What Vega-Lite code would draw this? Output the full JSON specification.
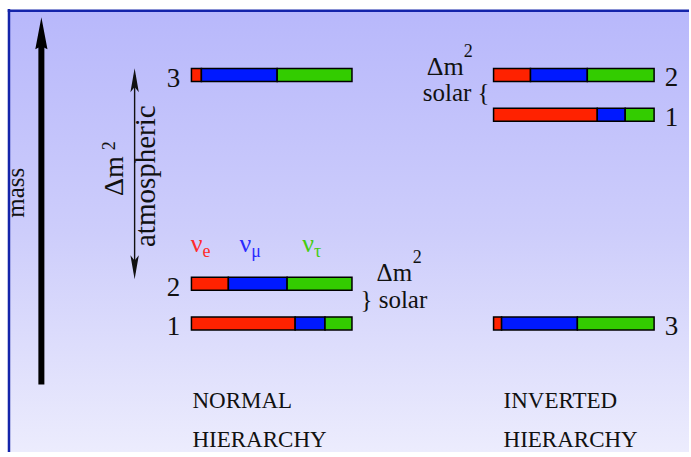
{
  "$schema": "https://vega.github.io/schema/vega-lite/v6.json",
  "width": 691,
  "height": 457,
  "autosize": {"type": "fit", "contains": "padding"},
  "padding": 0,
  "background": "white",
  "config": {
    "view": {"stroke": null},
    "axis": {"disable": true},
    "legend": {"disable": true},
    "text": {"font": "Liberation Serif", "color": "#111111"}
  },
  "data": {"values": [{}]},
  "datasets": {
    "bars": [
      {"hier": "normal", "state": 1, "mass": 0, "flavor": "e", "frac": 0.646},
      {"hier": "normal", "state": 1, "mass": 0, "flavor": "mu", "frac": 0.186},
      {"hier": "normal", "state": 1, "mass": 0, "flavor": "tau", "frac": 0.168},
      {"hier": "normal", "state": 2, "mass": 1.6, "flavor": "e", "frac": 0.23},
      {"hier": "normal", "state": 2, "mass": 1.6, "flavor": "mu", "frac": 0.366},
      {"hier": "normal", "state": 2, "mass": 1.6, "flavor": "tau", "frac": 0.404},
      {"hier": "normal", "state": 3, "mass": 10, "flavor": "e", "frac": 0.062},
      {"hier": "normal", "state": 3, "mass": 10, "flavor": "mu", "frac": 0.472},
      {"hier": "normal", "state": 3, "mass": 10, "flavor": "tau", "frac": 0.466},
      {"hier": "inverted", "state": 1, "mass": 8.4, "flavor": "e", "frac": 0.646},
      {"hier": "inverted", "state": 1, "mass": 8.4, "flavor": "mu", "frac": 0.174},
      {"hier": "inverted", "state": 1, "mass": 8.4, "flavor": "tau", "frac": 0.18},
      {"hier": "inverted", "state": 2, "mass": 10, "flavor": "e", "frac": 0.23},
      {"hier": "inverted", "state": 2, "mass": 10, "flavor": "mu", "frac": 0.354},
      {"hier": "inverted", "state": 2, "mass": 10, "flavor": "tau", "frac": 0.416},
      {"hier": "inverted", "state": 3, "mass": 0, "flavor": "e", "frac": 0.05},
      {"hier": "inverted", "state": 3, "mass": 0, "flavor": "mu", "frac": 0.472},
      {"hier": "inverted", "state": 3, "mass": 0, "flavor": "tau", "frac": 0.478}
    ]
  },
  "resolve": {"scale": {"x": "independent"}},
  "layer": [
    {
      "layer": [
        {
          "mark": {"type": "rect", "strokeWidth": 0, "fill": {"gradient": "linear", "x1": 0, "y1": 0, "x2": 0, "y2": 1, "stops": [{"offset": 0, "color": "#b8b8fb"}, {"offset": 0.5, "color": "#cdcdfb"}, {"offset": 1, "color": "#ececfd"}]}},
          "encoding": {
            "x": {"datum": -1.1366, "type": "quantitative", "scale": {"domain": [-1.19255, 3.09938], "nice": false, "zero": false}},
            "x2": {"datum": 3.09938},
            "y": {"datum": 12.579, "type": "quantitative", "scale": {"domain": [-5.177, 12.815], "nice": false, "zero": false}},
            "y2": {"datum": -5.177}
          }
        },
        {
          "mark": {"type": "rule", "color": "#1424aa", "strokeWidth": 2.5},
          "encoding": {"x": {"datum": -1.1366, "type": "quantitative"}, "y": {"datum": 12.65, "type": "quantitative"}, "y2": {"datum": -5.177}}
        },
        {
          "mark": {"type": "rule", "color": "#1424aa", "strokeWidth": 2.5},
          "encoding": {"x": {"datum": -1.1444, "type": "quantitative"}, "x2": {"datum": 3.09938}, "y": {"datum": 12.579, "type": "quantitative"}}
        },
        {
          "mark": {"type": "rule", "color": "black", "strokeWidth": 6},
          "encoding": {"x": {"datum": -0.9348, "type": "quantitative"}, "y": {"datum": -2.461, "type": "quantitative"}, "y2": {"datum": 11.2}}
        },
        {
          "mark": {"type": "point", "filled": true, "opacity": 1, "color": "black", "size": 1024, "shape": "M0,-1L0.38,1L0,0.8L-0.38,1Z"},
          "encoding": {"x": {"datum": -0.9348, "type": "quantitative"}, "y": {"datum": 11.673, "type": "quantitative"}}
        },
        {
          "mark": {"type": "rule", "color": "#111111", "strokeWidth": 1.4},
          "encoding": {"x": {"datum": -0.354, "type": "quantitative"}, "y": {"datum": 10.0, "type": "quantitative"}, "y2": {"datum": 2.05}}
        },
        {
          "mark": {"type": "point", "filled": true, "opacity": 1, "color": "#111111", "size": 576, "shape": "M0,-1L0.35,1L0,0.55L-0.35,1Z"},
          "encoding": {"x": {"datum": -0.354, "type": "quantitative"}, "y": {"datum": 9.783, "type": "quantitative"}}
        },
        {
          "mark": {"type": "point", "filled": true, "opacity": 1, "color": "#111111", "size": 576, "shape": "M0,1L0.35,-1L0,-0.55L-0.35,-1Z"},
          "encoding": {"x": {"datum": -0.354, "type": "quantitative"}, "y": {"datum": 2.264, "type": "quantitative"}}
        },
        {
          "mark": {"type": "text", "text": "mass", "angle": 270, "align": "center", "baseline": "alphabetic", "fontSize": 25},
          "encoding": {"x": {"datum": -1.0435, "type": "quantitative"}, "y": {"datum": 5.256, "type": "quantitative"}}
        },
        {
          "mark": {"type": "text", "text": "Δm", "angle": 270, "align": "center", "baseline": "alphabetic", "fontSize": 28},
          "encoding": {"x": {"datum": -0.4286, "type": "quantitative"}, "y": {"datum": 5.925, "type": "quantitative"}}
        },
        {
          "mark": {"type": "text", "text": "2", "angle": 270, "align": "center", "baseline": "alphabetic", "fontSize": 18},
          "encoding": {"x": {"datum": -0.4783, "type": "quantitative"}, "y": {"datum": 7.146, "type": "quantitative"}}
        },
        {
          "mark": {"type": "text", "text": "atmospheric", "angle": 270, "align": "center", "baseline": "alphabetic", "fontSize": 29},
          "encoding": {"x": {"datum": -0.2298, "type": "quantitative"}, "y": {"datum": 5.925, "type": "quantitative"}}
        },
        {
          "mark": {"type": "text", "text": "ν", "align": "right", "baseline": "alphabetic", "fontSize": 26, "color": "#ff2a2a"},
          "encoding": {"x": {"datum": 0.0683, "type": "quantitative"}, "y": {"datum": 2.854, "type": "quantitative"}}
        },
        {
          "mark": {"type": "text", "text": "e", "align": "left", "baseline": "alphabetic", "fontSize": 18, "color": "#ff2a2a"},
          "encoding": {"x": {"datum": 0.0683, "type": "quantitative"}, "y": {"datum": 2.657, "type": "quantitative"}}
        },
        {
          "mark": {"type": "text", "text": "ν", "align": "right", "baseline": "alphabetic", "fontSize": 26, "color": "#2a2aff"},
          "encoding": {"x": {"datum": 0.3727, "type": "quantitative"}, "y": {"datum": 2.854, "type": "quantitative"}}
        },
        {
          "mark": {"type": "text", "text": "μ", "align": "left", "baseline": "alphabetic", "fontSize": 18, "color": "#2a2aff"},
          "encoding": {"x": {"datum": 0.3727, "type": "quantitative"}, "y": {"datum": 2.657, "type": "quantitative"}}
        },
        {
          "mark": {"type": "text", "text": "ν", "align": "right", "baseline": "alphabetic", "fontSize": 26, "color": "#44cc11"},
          "encoding": {"x": {"datum": 0.764, "type": "quantitative"}, "y": {"datum": 2.854, "type": "quantitative"}}
        },
        {
          "mark": {"type": "text", "text": "τ", "align": "left", "baseline": "alphabetic", "fontSize": 18, "color": "#44cc11"},
          "encoding": {"x": {"datum": 0.764, "type": "quantitative"}, "y": {"datum": 2.657, "type": "quantitative"}}
        },
        {
          "mark": {"type": "text", "text": "Δm", "align": "center", "baseline": "alphabetic", "fontSize": 25},
          "encoding": {"x": {"datum": 1.264, "type": "quantitative"}, "y": {"datum": 1.713, "type": "quantitative"}}
        },
        {
          "mark": {"type": "text", "text": "2", "align": "left", "baseline": "alphabetic", "fontSize": 18},
          "encoding": {"x": {"datum": 1.3789, "type": "quantitative"}, "y": {"datum": 2.42, "type": "quantitative"}}
        },
        {
          "mark": {"type": "text", "text": "} solar", "align": "center", "baseline": "alphabetic", "fontSize": 25},
          "encoding": {"x": {"datum": 1.2609, "type": "quantitative"}, "y": {"datum": 0.61, "type": "quantitative"}}
        },
        {
          "mark": {"type": "text", "text": "NORMAL", "align": "left", "baseline": "alphabetic", "fontSize": 23},
          "encoding": {"x": {"datum": 0.0062, "type": "quantitative"}, "y": {"datum": -3.406, "type": "quantitative"}}
        },
        {
          "mark": {"type": "text", "text": "HIERARCHY", "align": "left", "baseline": "alphabetic", "fontSize": 23},
          "encoding": {"x": {"datum": 0.0062, "type": "quantitative"}, "y": {"datum": -4.98, "type": "quantitative"}}
        },
        {
          "data": {"name": "bars"},
          "transform": [
            {"filter": "datum.hier === 'normal'"},
            {"stack": "frac", "groupby": ["state"], "sort": [{"field": "flavor", "order": "ascending"}], "as": ["f0", "f1"]}
          ],
          "mark": {"type": "bar", "orient": "horizontal", "size": 13, "stroke": "black", "strokeWidth": 1.5},
          "encoding": {
            "x": {"field": "f0", "type": "quantitative"},
            "x2": {"field": "f1"},
            "y": {"field": "mass", "type": "quantitative"},
            "color": {"field": "flavor", "type": "nominal", "scale": {"domain": ["e", "mu", "tau"], "range": ["#ff2200", "#0019ff", "#33cc00"]}, "legend": null}
          }
        },
        {
          "data": {"name": "bars"},
          "transform": [{"filter": "datum.hier === 'normal' && datum.flavor === 'e'"}],
          "mark": {"type": "text", "align": "center", "baseline": "alphabetic", "fontSize": 27, "dy": 12},
          "encoding": {
            "x": {"datum": -0.1118, "type": "quantitative"},
            "y": {"field": "mass", "type": "quantitative"},
            "text": {"field": "state", "type": "nominal"}
          }
        }
      ]
    },
    {
      "layer": [
        {
          "data": {"name": "bars"},
          "transform": [
            {"filter": "datum.hier === 'inverted'"},
            {"stack": "frac", "groupby": ["state"], "sort": [{"field": "flavor", "order": "ascending"}], "as": ["f0", "f1"]}
          ],
          "mark": {"type": "bar", "orient": "horizontal", "size": 13, "stroke": "black", "strokeWidth": 1.5},
          "encoding": {
            "x": {"field": "f0", "type": "quantitative", "scale": {"domain": [-3.07453, 1.21739], "nice": false, "zero": false}},
            "x2": {"field": "f1"},
            "y": {"field": "mass", "type": "quantitative", "scale": {"domain": [-5.177, 12.815], "nice": false, "zero": false}},
            "color": {"field": "flavor", "type": "nominal", "scale": {"domain": ["e", "mu", "tau"], "range": ["#ff2200", "#0019ff", "#33cc00"]}, "legend": null}
          }
        },
        {
          "data": {"name": "bars"},
          "transform": [{"filter": "datum.hier === 'inverted' && datum.flavor === 'e'"}],
          "mark": {"type": "text", "align": "center", "baseline": "alphabetic", "fontSize": 27, "dy": 11.5},
          "encoding": {
            "x": {"datum": 1.1087, "type": "quantitative"},
            "y": {"field": "mass", "type": "quantitative"},
            "text": {"field": "state", "type": "nominal"}
          }
        },
        {
          "mark": {"type": "text", "text": "Δm", "align": "center", "baseline": "alphabetic", "fontSize": 26},
          "encoding": {"x": {"datum": -0.3012, "type": "quantitative"}, "y": {"datum": 9.98, "type": "quantitative"}}
        },
        {
          "mark": {"type": "text", "text": "2", "align": "left", "baseline": "alphabetic", "fontSize": 18},
          "encoding": {"x": {"datum": -0.1863, "type": "quantitative"}, "y": {"datum": 10.728, "type": "quantitative"}}
        },
        {
          "mark": {"type": "text", "text": "solar {", "align": "center", "baseline": "alphabetic", "fontSize": 25},
          "encoding": {"x": {"datum": -0.2329, "type": "quantitative"}, "y": {"datum": 8.957, "type": "quantitative"}}
        },
        {
          "mark": {"type": "text", "text": "INVERTED", "align": "left", "baseline": "alphabetic", "fontSize": 23},
          "encoding": {"x": {"datum": 0.0621, "type": "quantitative"}, "y": {"datum": -3.406, "type": "quantitative"}}
        },
        {
          "mark": {"type": "text", "text": "HIERARCHY", "align": "left", "baseline": "alphabetic", "fontSize": 23},
          "encoding": {"x": {"datum": 0.0621, "type": "quantitative"}, "y": {"datum": -4.98, "type": "quantitative"}}
        }
      ]
    }
  ]
}
